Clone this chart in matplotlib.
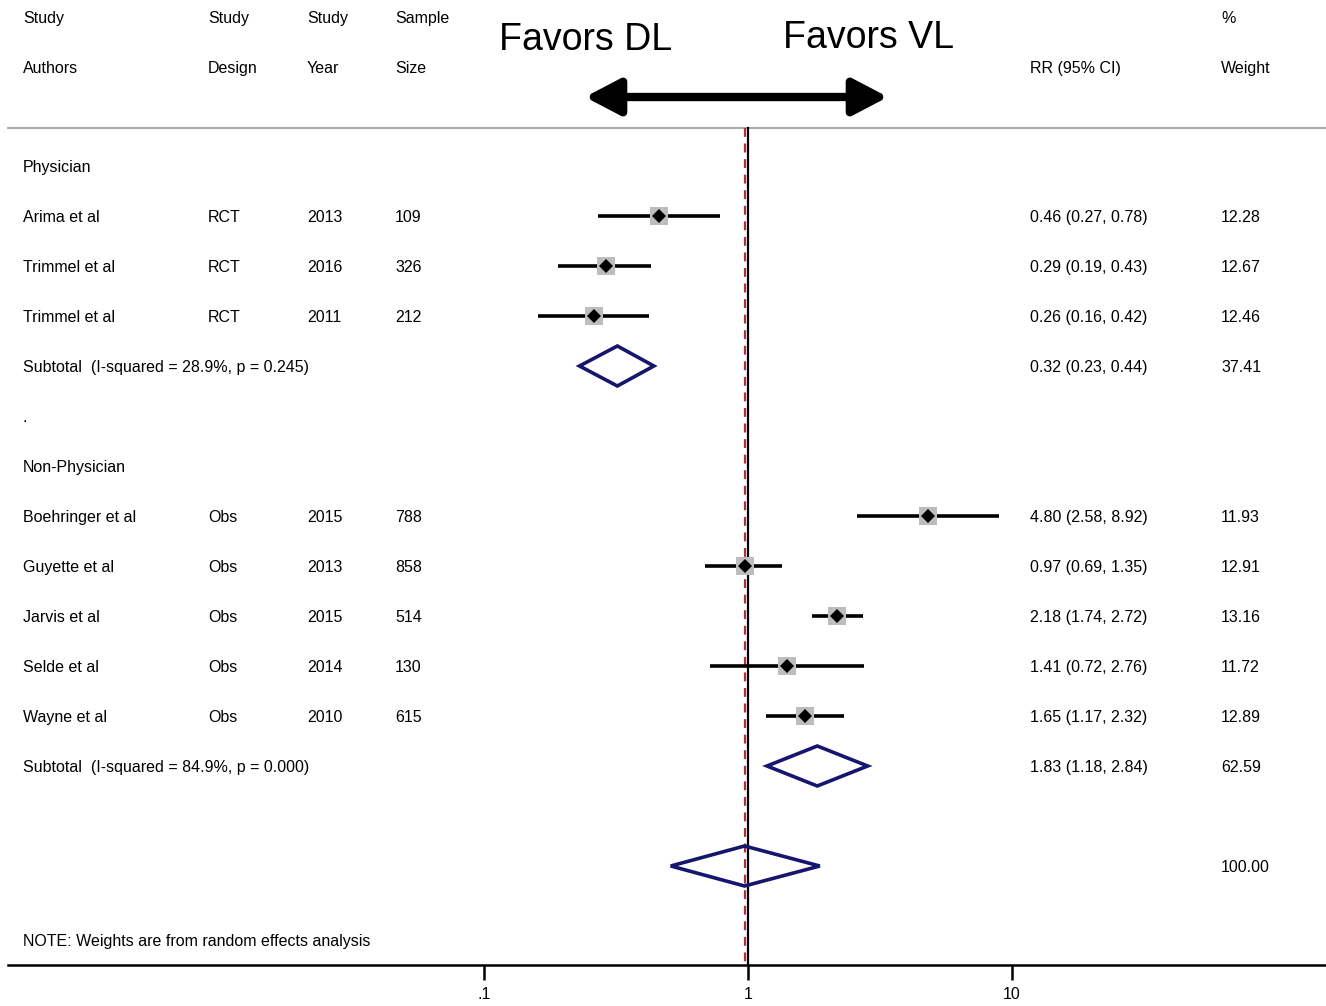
import matplotlib.pyplot as plt
from matplotlib.patches import Polygon, FancyArrowPatch
from matplotlib.transforms import blended_transform_factory
import numpy as np

plt.rcParams['font.family'] = ['Liberation Sans', 'DejaVu Sans']

# study level data
authors = ['Arima et al', 'Trimmel et al', 'Trimmel et al',
           'Boehringer et al', 'Guyette et al', 'Jarvis et al', 'Selde et al', 'Wayne et al']
design = ['RCT', 'RCT', 'RCT', 'Obs', 'Obs', 'Obs', 'Obs', 'Obs']
year = [2013, 2016, 2011, 2015, 2013, 2015, 2014, 2010]
size = [109, 326, 212, 788, 858, 514, 130, 615]
rr = [0.46, 0.29, 0.26, 4.80, 0.97, 2.18, 1.41, 1.65]
lo = [0.27, 0.19, 0.16, 2.58, 0.69, 1.74, 0.72, 1.17]
hi = [0.78, 0.43, 0.42, 8.92, 1.35, 2.72, 2.76, 2.32]
weight = [12.28, 12.67, 12.46, 11.93, 12.91, 13.16, 11.72, 12.89]
study_rows = [1, 2, 3, 7, 8, 9, 10, 11]

# subgroup / overall pooled estimates
groups = ['Physician', 'Non-Physician']
group_rows = [0, 6]
sub_label = ['Subtotal  (I-squared = 28.9%, p = 0.245)',
             'Subtotal  (I-squared = 84.9%, p = 0.000)']
sub_rr = [0.32, 1.83]
sub_lo = [0.23, 1.18]
sub_hi = [0.44, 2.84]
sub_w = [37.41, 62.59]
sub_rows = [4, 12]
overall = (0.97, 0.51, 1.87)
overall_row = 14

W, H = 1326, 1006
fig = plt.figure(figsize=(W / 100, H / 100), dpi=100)
ax = fig.add_axes([0, 41 / H, 1, 1 - 41 / H])
ax.set_xscale('log')
xl, xr = 10 ** (-748 / 264), 10 ** ((W - 748) / 264)
ax.set_xlim(xl, xr)
ax.set_ylim(15.98, -3.32)
for s in ['top', 'left', 'right']:
    ax.spines[s].set_visible(False)
ax.spines['bottom'].set_bounds(10 ** ((8 - 748) / 264), xr)
ax.spines['bottom'].set_linewidth(1.8)
ax.set_yticks([])
ax.set_xticks([0.1, 1, 10])
ax.set_xticklabels(['.1', '1', '10'])
ax.minorticks_off()
ax.tick_params(axis='x', direction='out', length=11, width=1.8, labelsize=11.5, pad=5)

tr = blended_transform_factory(ax.transAxes, ax.transData)
def col(px):
    return px / W

fs = 11.5
def txt(px, r, s, **kw):
    ax.text(col(px), r, s, transform=tr, fontsize=fs, va='center_baseline', **kw)

txt(23, -2.98, 'Study'); txt(23, -1.98, 'Authors')
txt(208, -2.98, 'Study'); txt(208, -1.98, 'Design')
txt(307, -2.98, 'Study'); txt(307, -1.98, 'Year')
txt(395, -2.98, 'Sample'); txt(395, -1.98, 'Size')
txt(1030, -1.98, 'RR (95% CI)')
txt(1221, -2.98, '%'); txt(1221, -1.98, 'Weight')

ax.text(col(499), -2.52, 'Favors DL', transform=tr, fontsize=27, va='center')
ax.text(col(783), -2.56, 'Favors VL', transform=tr, fontsize=27, va='center')
arr = FancyArrowPatch((10 ** ((585 - 748) / 264), -1.38), (10 ** ((888 - 748) / 264), -1.38),
                      arrowstyle='<|-|>,head_length=1.05,head_width=0.55', mutation_scale=20,
                      lw=6, color='black', shrinkA=0, shrinkB=0)
ax.add_patch(arr)

# separators and reference lines
ax.plot([10 ** ((8 - 748) / 264), xr], [-0.76, -0.76], color='#aaaaaa', lw=1.5)
ax.plot([1, 1], [-0.76, 15.98], color='black', lw=1.6)
ax.plot([overall[0]] * 2, [-0.76, 15.98], color='#b03040', lw=1.6, dashes=(4, 3))

for g, r in zip(groups, group_rows):
    txt(23, r, g)
txt(23, 5, '.')

for i, r in enumerate(study_rows):
    txt(23, r, authors[i])
    txt(208, r, design[i])
    txt(307, r, str(year[i]))
    txt(395, r, str(size[i]))
    txt(1030, r, '%.2f (%.2f, %.2f)' % (rr[i], lo[i], hi[i]))
    txt(1221, r, '%.2f' % weight[i])
    ax.plot([lo[i], hi[i]], [r, r], color='black', lw=2.6, solid_capstyle='butt')
    ax.plot(rr[i], r, marker='s', ms=3.6 * np.sqrt(weight[i]), color='#bdbdbd', mew=0, zorder=3)
    ax.plot(rr[i], r, marker='D', ms=7, color='black', mew=0, zorder=4)

navy = '#16166e'
def diamond(est, l, h, r):
    ax.add_patch(Polygon([(l, r), (est, r - 0.4), (h, r), (est, r + 0.4)], closed=True,
                         fill=False, ec=navy, lw=2.6, joinstyle='miter', zorder=5))

for k, r in enumerate(sub_rows):
    txt(23, r, sub_label[k])
    txt(1030, r, '%.2f (%.2f, %.2f)' % (sub_rr[k], sub_lo[k], sub_hi[k]))
    txt(1221, r, '%.2f' % sub_w[k])
    diamond(sub_rr[k], sub_lo[k], sub_hi[k], r)

diamond(overall[0], overall[1], overall[2], overall_row)
txt(1221, overall_row, '100.00')
txt(23, 15.48, 'NOTE: Weights are from random effects analysis')

plt.savefig('out.png', dpi=100)
